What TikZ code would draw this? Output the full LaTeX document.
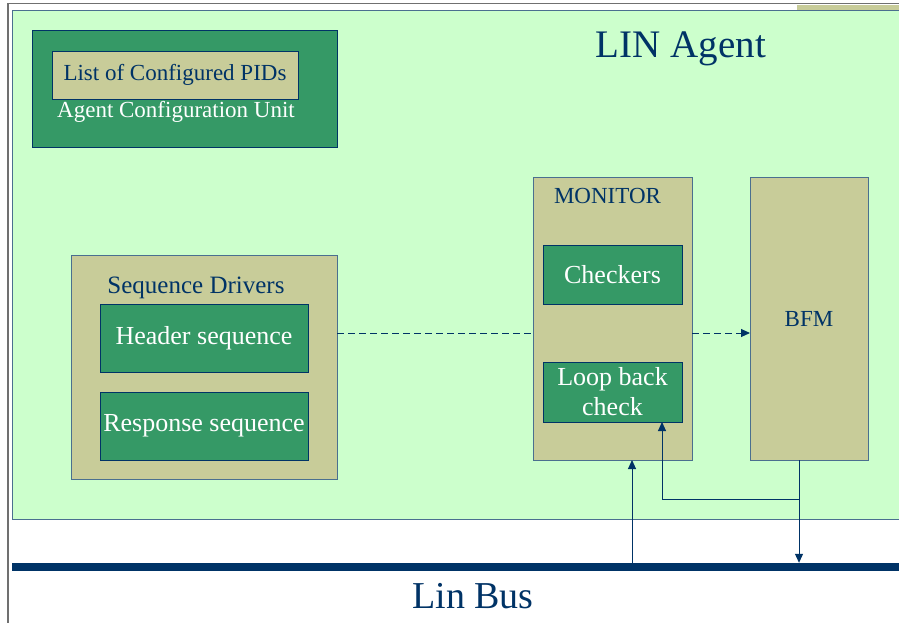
\documentclass[tikz,border=0pt]{standalone}
\usepackage{fontspec}
\setmainfont{Liberation Serif}
\usetikzlibrary{arrows.meta}
\definecolor{lgreen}{HTML}{CCFFCC}
\definecolor{khaki}{HTML}{C8CC99}
\definecolor{dgreen}{HTML}{359966}
\definecolor{navy}{HTML}{003366}
\definecolor{bordr}{HTML}{4A6F8F}
\definecolor{frame}{HTML}{707070}
\tikzset{
  box/.style={rectangle, draw=bordr, line width=1pt, inner sep=0pt, outer sep=0pt},
  khakibox/.style={box, fill=khaki, text=navy},
  greenbox/.style={box, draw=navy, fill=dgreen, text=white, align=center},
  lbl/.style={inner sep=0pt, outer sep=0pt},
  fs/.style={font=\fontsize{#1}{#1}\selectfont},
  conn/.style={draw=navy, line width=1pt},
  tip/.style={-{Triangle[length=9pt,width=8pt]}},
  dsh/.style={conn, dash pattern=on 7pt off 4pt}
}
\begin{document}
\begin{tikzpicture}[x=1pt,y=-1pt]
\useasboundingbox (0,0) rectangle (899,622);
\fill[white] (0,0) rectangle (899,622);
% outer frame
\draw[frame, line width=1.5pt] (8,640) -- (8,3.5) -- (910,3.5);
\fill[khaki] (797,4.5) rectangle (910,11);
% LIN agent container
\node[box, fill=lgreen, minimum width=898pt, minimum height=509pt] (agent) at (461,264.5) {};
\node[lbl, fs=39, text=navy, anchor=base] (title) at (681,57) {LIN Agent};
% configuration unit
\node[greenbox, minimum width=305pt, minimum height=117pt] (acu) at (184.5,88.5) {};
\node[khakibox, draw=navy, minimum width=246pt, minimum height=48pt, fs=23] (pids) at (175,75) {List of Configured PIDs};
\node[lbl, fs=23, text=white, anchor=base] (acutxt) at (176,117) {Agent Configuration Unit};
% sequence drivers
\node[khakibox, minimum width=266pt, minimum height=224pt] (seq) at (204,367) {};
\node[lbl, fs=25, text=navy, anchor=base] (seqtxt) at (196,293) {Sequence Drivers};
\node[greenbox, minimum width=208pt, minimum height=68pt, fs=26] (hdr) at (204,338) {Header sequence};
\node[greenbox, minimum width=208pt, minimum height=68pt, fs=26] (rsp) at (204,426) {Response sequence};
% monitor
\node[khakibox, minimum width=159pt, minimum height=283pt] (mon) at (612.5,318.5) {};
\node[lbl, fs=23, text=navy, anchor=base] (montxt) at (607.5,203) {MONITOR};
\node[greenbox, minimum width=139pt, minimum height=59pt, fs=26] (chk) at (612.5,274.5) {Checkers};
\node[greenbox, minimum width=139pt, minimum height=60pt, font=\fontsize{26}{30}\selectfont] (loop) at (612.5,392) {Loop back\\check};
% BFM
\node[khakibox, minimum width=118pt, minimum height=283pt, fs=23] (bfm) at (809,318.5) {BFM};
% bus
\node[rectangle, fill=navy, inner sep=0pt, minimum width=900pt, minimum height=8pt] (bus) at (461.5,567) {};
\node[lbl, fs=38, text=navy, anchor=base] (bustxt) at (473,608) {Lin Bus};
% connectors
\draw[dsh] ([yshift=34pt]seq.east) -- ([yshift=34pt]seq.east -| mon.west);
\draw[dsh, tip] ([yshift=-14.5pt]mon.east) -- ([yshift=-14.5pt]bfm.west);
\coordinate (mpin) at ([xshift=19.5pt]mon.south);
\draw[conn, tip] (mpin |- bus.north) -- (mpin);
\coordinate (bpin) at ([xshift=-10pt]bfm.south);
\coordinate (lpin) at ([xshift=49.5pt]loop.south);
\coordinate (branch) at (bpin |- 0,499);
\draw[conn, tip] (bpin) -- (bpin |- bus.north);
\draw[conn, tip] (branch) -- (lpin |- branch) -- (lpin);
\end{tikzpicture}
\end{document}
